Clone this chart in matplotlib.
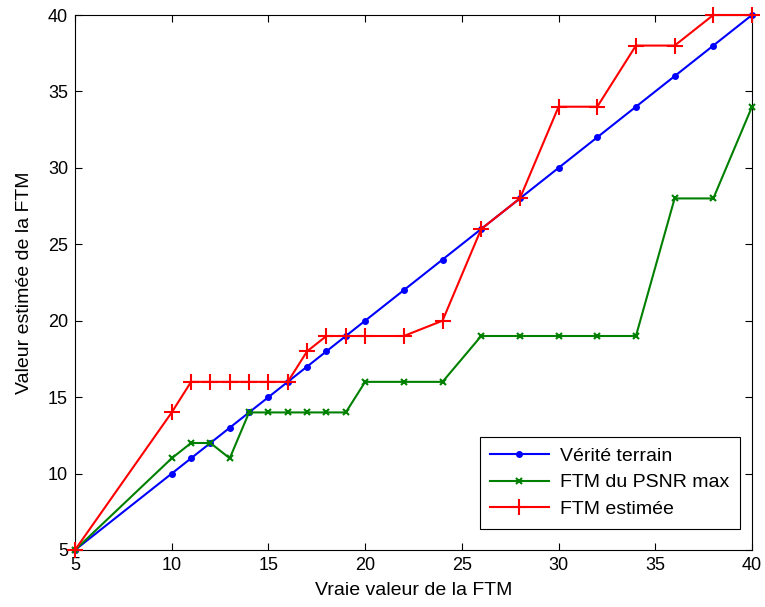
import matplotlib
matplotlib.use("Agg")
import matplotlib.pyplot as plt

plt.rcParams['font.family'] = ['Liberation Sans', 'DejaVu Sans']

x_vals = [5, 10, 11, 12, 13, 14, 15, 16, 17, 18, 19, 20, 22, 24, 26, 28, 30, 32, 34, 36, 38, 40]
verite = [5, 10, 11, 12, 13, 14, 15, 16, 17, 18, 19, 20, 22, 24, 26, 28, 30, 32, 34, 36, 38, 40]
psnr_max = [5, 11, 12, 12, 11, 14, 14, 14, 14, 14, 14, 16, 16, 16, 19, 19, 19, 19, 19, 28, 28, 34]
estimee = [5, 14, 16, 16, 16, 16, 16, 16, 18, 19, 19, 19, 19, 20, 26, 28, 34, 34, 38, 38, 40, 40]

ticks = [5, 10, 15, 20, 25, 30, 35, 40]

fig = plt.figure(figsize=(7.65, 6.07), dpi=100)
ax = fig.add_axes([75 / 765, 1 - 550 / 607, 677 / 765, 535 / 607])

ax.plot(x_vals, verite, color='blue', marker='o', markersize=4, lw=1.5,
        label='Vérité terrain', clip_on=False, zorder=3)
ax.plot(x_vals, psnr_max, color='green', marker='x', markersize=5, mew=1.5, lw=1.5,
        label='FTM du PSNR max', clip_on=False, zorder=3)
ax.plot(x_vals, estimee, color='red', marker='+', markersize=12, mew=1.5, lw=1.5,
        label='FTM estimée', clip_on=False, zorder=3)

ax.set_xlim(5, 40)
ax.set_ylim(5, 40)
ax.set_xticks(ticks)
ax.set_yticks(ticks)
ax.tick_params(direction='in', top=True, right=True, labelsize=13, length=5, pad=5)
ax.set_xlabel('Vraie valeur de la FTM', fontsize=14, labelpad=6)
ax.set_ylabel('Valeur estimée de la FTM', fontsize=14, labelpad=11)

leg = ax.legend(loc='lower right', fontsize=14, fancybox=False, framealpha=1,
                edgecolor='black', handlelength=3.0, handletextpad=0.6,
                borderpad=0.55, labelspacing=0.45,
                bbox_to_anchor=(0.997, 0.022))
leg.get_frame().set_linewidth(0.8)

fig.savefig('out.png', dpi=100)
